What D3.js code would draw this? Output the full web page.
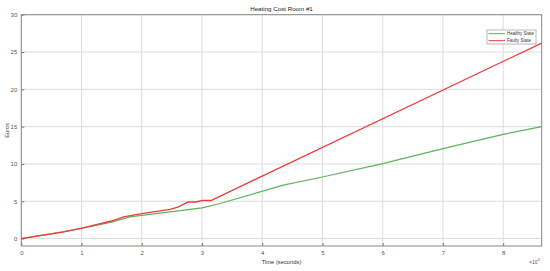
<!DOCTYPE html>
<html><head><meta charset="utf-8">
<script src="https://cdn.jsdelivr.net/npm/d3@7"></script>
<style>body{margin:0;background:#fff}svg{display:block;font-family:"Liberation Sans",Arial,sans-serif}</style>
</head><body><svg id="c" width="550" height="271"></svg>
<script>
const healthyT = [0, 7000, 10000, 15000, 18000, 20000, 25000, 30000, 33000, 43500, 50000, 60000, 70000, 80000, 86400];
const healthyV = [0, 0.9, 1.35, 2.2, 2.9, 3.1, 3.6, 4.1, 4.7, 7.15, 8.25, 10.05, 12.05, 13.95, 15.0];
const faultyT = [0, 7000, 10000, 15000, 17000, 20000, 24700, 26000, 27700, 29000, 30000, 31500, 86400];
const faultyV = [0, 0.9, 1.4, 2.35, 2.9, 3.35, 3.9, 4.2, 4.9, 4.9, 5.1, 5.1, 26.2];
const xTicks = [0, 1, 2, 3, 4, 5, 6, 7, 8];
const yTicks = [0, 5, 10, 15, 20, 25, 30];
const seriesNames = ["Healthy State", "Faulty State"];
const seriesColors = ["#5fb35f", "#f03a3a"];

const svg = d3.select("#c");
const L = 21.3, R = 541.7, T = 14.7, B = 246;
const x = d3.scaleLinear().domain([0, 86400]).range([L, R]);
const y = d3.scaleLinear().domain([-1, 30]).range([B, T]);

// grid
const g = svg.append("g");
g.selectAll(".gx").data(xTicks).enter().append("line")
  .attr("x1", d => x(d*1e4)).attr("x2", d => x(d*1e4)).attr("y1", T).attr("y2", B)
  .attr("stroke", "#dcdcdc").attr("stroke-width", 1);
g.selectAll(".gy").data(yTicks).enter().append("line")
  .attr("x1", L).attr("x2", R).attr("y1", d => y(d)).attr("y2", d => y(d))
  .attr("stroke", "#dcdcdc").attr("stroke-width", 1);

// axes
const xAxis = d3.axisBottom(x).tickValues(xTicks.map(d => d*1e4)).tickFormat(d => d/1e4).tickSizeInner(-3).tickSizeOuter(0).tickPadding(4.5);
const yAxis = d3.axisLeft(y).tickValues(yTicks).tickSizeInner(-3).tickSizeOuter(0).tickPadding(4);
const gx = svg.append("g").attr("transform", `translate(0,${B})`).call(xAxis);
const gy = svg.append("g").attr("transform", `translate(${L},0)`).call(yAxis);
[gx, gy].forEach(a => {
  a.select(".domain").remove();
  a.selectAll("line").attr("stroke", "#777");
  a.selectAll("text").attr("fill", "#555").style("font-size", "6px").style("font-family", "Liberation Sans, Arial, sans-serif");
});
// box
svg.append("rect").attr("x", L).attr("y", T).attr("width", R-L).attr("height", B-T)
  .attr("fill", "none").attr("stroke", "#888").attr("stroke-width", 1);

// lines
const line = d3.line().x(d => x(d[0])).y(d => y(d[1]));
const hData = healthyT.map((t, i) => [t, healthyV[i]]);
const fData = faultyT.map((t, i) => [t, faultyV[i]]);
svg.append("path").datum(hData).attr("d", line).attr("fill", "none").attr("stroke", seriesColors[0]).attr("stroke-width", 1.2);
svg.append("path").datum(fData).attr("d", line).attr("fill", "none").attr("stroke", seriesColors[1]).attr("stroke-width", 1.3);

// title & labels
svg.append("text").attr("x", (L+R)/2).attr("y", 11).attr("text-anchor", "middle")
  .style("font-size", "6.2px").attr("fill", "#222").text("Heating Cost Room #1");
svg.append("text").attr("x", (L+R)/2).attr("y", 263.5).attr("text-anchor", "middle")
  .style("font-size", "5.8px").attr("fill", "#333").text("Time (seconds)");
svg.append("text").attr("transform", `translate(9,${(T+B)/2}) rotate(-90)`).attr("text-anchor", "middle")
  .style("font-size", "5.6px").attr("fill", "#333").text("Euros");
const ex = svg.append("text").attr("x", 529).attr("y", 263.5).style("font-size", "5px").attr("fill", "#555");
ex.append("tspan").text("\u00d710");
ex.append("tspan").attr("dy", -3).style("font-size", "4px").text("4");

// legend
const lg = svg.append("g").attr("transform", "translate(487,30)");
lg.append("rect").attr("width", 49).attr("height", 14).attr("fill", "#fff").attr("stroke", "#999").attr("stroke-width", 0.7);
seriesNames.forEach((n, i) => {
  const yy = 3.7 + i*7;
  lg.append("line").attr("x1", 1.5).attr("x2", 18).attr("y1", yy).attr("y2", yy).attr("stroke", seriesColors[i]).attr("stroke-width", 1);
  lg.append("text").attr("x", 20).attr("y", yy + 1.6).style("font-size", "4.5px").attr("fill", "#333").text(n);
});
</script></body></html>
